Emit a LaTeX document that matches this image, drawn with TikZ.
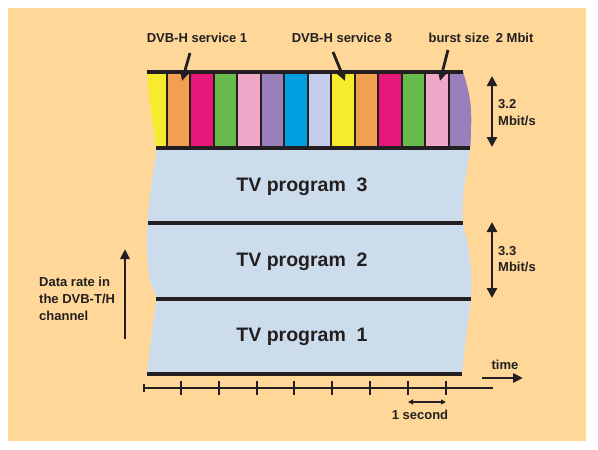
\documentclass[tikz,border=0pt]{standalone}
\usepackage{fontspec}
\setmainfont{Liberation Sans}
\usetikzlibrary{arrows.meta}
\definecolor{bgc}{HTML}{FFD899}
\definecolor{ink}{HTML}{231F20}
\definecolor{tvb}{HTML}{CCDCEC}
\definecolor{cyel}{HTML}{F7EC2C}
\definecolor{cora}{HTML}{F0A050}
\definecolor{cmag}{HTML}{E8187A}
\definecolor{cgrn}{HTML}{66BB4A}
\definecolor{cpnk}{HTML}{F0A8C8}
\definecolor{cpur}{HTML}{9B7FBB}
\definecolor{ccya}{HTML}{00A0E0}
\definecolor{clav}{HTML}{C5CDEA}
\begin{document}
\begin{tikzpicture}[x=1pt,y=-1pt,
  lbl/.style={font=\fontsize{13}{17}\selectfont\bfseries, text=ink, inner sep=0pt},
  tvlbl/.style={font=\fontsize{19.5}{22}\selectfont\bfseries, text=ink, inner sep=0pt},
  thick line/.style={draw=ink, line width=3.6pt},
  divider/.style={draw=ink, line width=2pt},
  ptr/.style={draw=ink, line width=2.8pt, -{Triangle[length=10pt,width=9pt]}},
  dbl/.style={draw=ink, line width=2.8pt, {Triangle[length=10pt,width=10pt]}-{Triangle[length=10pt,width=10pt]}},
  axis/.style={draw=ink, line width=2.6pt},
  tick/.style={draw=ink, line width=2pt}]
\useasboundingbox (0,0) rectangle (598,450);
\fill[white] (0,0) rectangle (598,450);
\fill[bgc] (8,8) rectangle (586,441);

% wavy region
\begin{scope}
\clip plot[smooth, tension=0.6] coordinates {(147,72) (151,110) (156,148) (152,180) (148,215) (147,250) (150,280) (156,299) (152,330) (147,374)}
  -- plot[smooth, tension=0.6] coordinates {(462,374) (466,337) (471,299) (471,270) (468,245) (463,223) (463,200) (466,175) (470,148) (471,115) (469,95) (463,72)} -- cycle;
\fill[tvb] (140,140) rectangle (480,380);
\foreach \c [count=\i from 0] in {cyel,cora,cmag,cgrn,cpnk,cpur,ccya,clav,cyel,cora,cmag,cgrn,cpnk,cpur} {
  \fill[\c] (143.18+23.52*\i,70) rectangle (166.7+23.52*\i,149);
}
\fill[cyel] (130,70) rectangle (166.7,149);
\fill[cpur] (449,70) rectangle (480,149);
\end{scope}
\foreach \i in {0,...,12} {
  \draw[divider] (166.7+23.52*\i,72) -- (166.7+23.52*\i,148);
}
\draw[thick line] (147,72) -- (463,72);
\draw[thick line] (156,148) -- (470,148);
\draw[thick line] (148,223) -- (463,223);
\draw[thick line] (156,299) -- (471,299);
\draw[thick line] (147,374) -- (462,374);

% TV labels
\node[tvlbl] (tv3) at (302,187) {TV program\ \ 3};
\node[tvlbl] (tv2) at (302,262) {TV program\ \ 2};
\node[tvlbl] (tv1) at (302,337) {TV program\ \ 1};

% top labels
\node[lbl] (s1) at (197,38) {DVB-H service 1};
\node[lbl] (s8) at (342,38) {DVB-H service 8};
\node[lbl] (bs) at (481,38) {burst size\hspace{3pt} 2 Mbit};
\coordinate (s1a) at (190,53);
\coordinate (s1b) at (182,81);
\coordinate (s8a) at (333,52);
\coordinate (s8b) at (345,81);
\coordinate (bsa) at (448,50);
\coordinate (bsb) at (440,81);
\draw[ptr] (s1a) -- (s1b);
\draw[ptr] (s8a) -- (s8b);
\draw[ptr] (bsa) -- (bsb);

% rate arrows
\coordinate (r1t) at (492,76);
\coordinate (r1b) at (492,147);
\draw[dbl] (r1t) -- (r1b);
\node[lbl, anchor=west] (r1a) at (498,104) {3.2};
\node[lbl, anchor=west] (r1m) at (498,121) {Mbit/s};
\coordinate (r2t) at (492,222);
\coordinate (r2b) at (492,298);
\draw[dbl] (r2t) -- (r2b);
\node[lbl, anchor=west] (r2a) at (498,251) {3.3};
\node[lbl, anchor=west] (r2m) at (498,267) {Mbit/s};

% data rate arrow
\coordinate (dr0) at (125,339);
\coordinate (dr1) at (125,249);
\draw[ptr] (dr0) -- (dr1);
\node[lbl, anchor=west, align=left] (drl) at (39,299) {Data rate in\\the DVB-T/H\\channel};

% time axis
\coordinate (ax0) at (143,388);
\coordinate (ax1) at (493,388);
\draw[axis] (ax0) -- (ax1);
\draw[tick] (144,384) -- (144,392);
\foreach \x in {180.7,218.6,256.5,294.4,332.3,370.2,408.1,446} {
  \draw[tick] (\x,381) -- (\x,395);
}
\coordinate (sec0) at (408,402);
\coordinate (sec1) at (446,402);
\draw[draw=ink, line width=1.3pt, {Triangle[length=5pt,width=5pt]}-{Triangle[length=5pt,width=5pt]}] (sec0) -- (sec1);
\node[lbl] (secl) at (420,415) {1 second};
\coordinate (tm0) at (482,378);
\coordinate (tm1) at (523,378);
\draw[ptr] (tm0) -- (tm1);
\node[lbl] (tml) at (505,365) {time};
\end{tikzpicture}
\end{document}
